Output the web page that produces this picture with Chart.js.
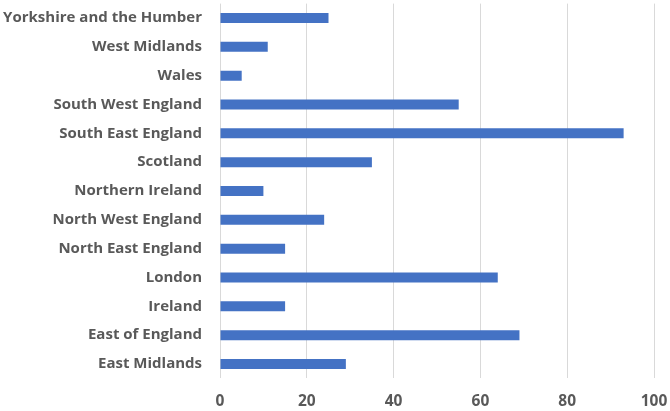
<!DOCTYPE html>
<html>
<head>
<meta charset="utf-8">
<script src="https://cdn.jsdelivr.net/npm/chart.js@4/dist/chart.umd.min.js"></script>
<style>
html,body{margin:0;padding:0;background:#fff;}
#wrap{width:670px;height:411px;position:relative;}
</style>
</head>
<body>
<div id="wrap"><canvas id="c"></canvas></div>
<script>
const categories = ["Yorkshire and the Humber","West Midlands","Wales","South West England","South East England","Scotland","Northern Ireland","North West England","North East England","London","Ireland","East of England","East Midlands"];
const values = [25,11,5,55,93,35,10,24,15,64,15,69,29];
const xTicks = [0,20,40,60,80,100];

new Chart(document.getElementById('c'), {
  type: 'bar',
  data: {
    labels: categories,
    datasets: [{
      data: values,
      backgroundColor: '#4472C4',
      borderWidth: 0,
      barPercentage: 0.347,
      categoryPercentage: 1.0
    }]
  },
  options: {
    indexAxis: 'y',
    responsive: true,
    maintainAspectRatio: false,
    animation: false,
    layout: { padding: { top: 3.6, left: 0, right: 0, bottom: 0 } },
    plugins: { legend: { display: false }, tooltip: { enabled: false } },
    scales: {
      x: {
        min: xTicks[0], max: xTicks[xTicks.length-1],
        afterBuildTicks: (s) => { s.ticks = xTicks.map(v => ({ value: v })); },
        afterFit: (s) => { s.height = 32.6; s.paddingLeft = 0; s.paddingRight = 16; },
        grid: { color: '#d9d9d9', lineWidth: 1, drawTicks: false },
        border: { display: false },
        ticks: { color: '#595959', font: { family: 'Open Sans', size: 15.5, weight: 'bold' }, padding: 14 }
      },
      y: {
        afterFit: (s) => { s.width = 220; s.paddingTop = 0; s.paddingBottom = 0; },
        grid: { display: false, drawTicks: false },
        border: { display: false },
        ticks: { color: '#595959', font: { family: 'Open Sans', size: 15, weight: 'bold' }, padding: 18 }
      }
    }
  }
});
</script>
</body>
</html>
